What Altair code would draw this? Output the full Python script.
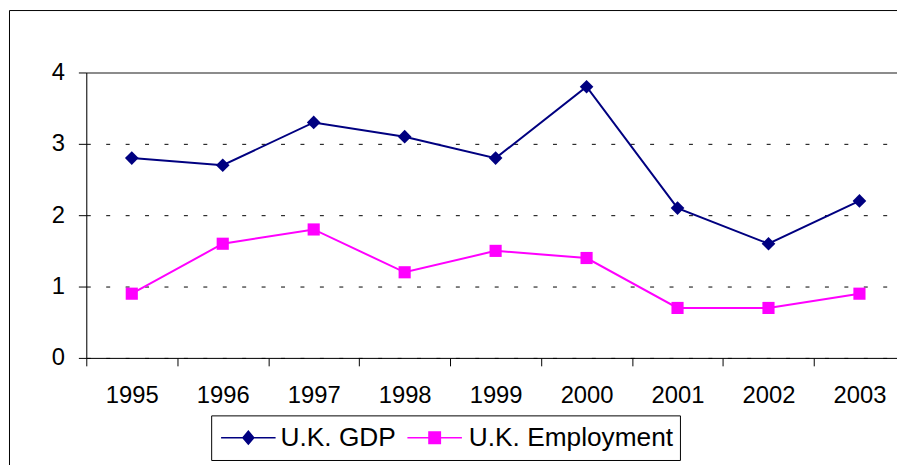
import altair as alt
import pandas as pd

years = ["1995", "1996", "1997", "1998", "1999", "2000", "2001", "2002", "2003"]
gdp = [2.8, 2.7, 3.3, 3.1, 2.8, 3.8, 2.1, 1.6, 2.2]
employment = [0.9, 1.6, 1.8, 1.2, 1.5, 1.4, 0.7, 0.7, 0.9]
series_names = ["U.K. GDP", "U.K. Employment"]
series_colors = ["#000080", "#FF00FF"]
y_ticks = [0, 1, 2, 3, 4]

rows = []
for name, vals in zip(series_names, [gdp, employment]):
    for yr, v in zip(years, vals):
        rows.append({"year": yr, "value": v, "series": name})
df = pd.DataFrame(rows)

FONT = "Liberation Sans"

x_enc = alt.X(
    "year:O",
    sort=years,
    bandPosition=0.5,
    scale=alt.Scale(type="band", range=[0, 826], paddingInner=0, paddingOuter=0),
    axis=alt.Axis(
        title=None, labelAngle=0, tickBand="extent", tickSize=8, labelPadding=18,
        labelFontSize=24, labelColor="black", domainColor="black", tickColor="black",
        labelFont=FONT,
    ),
)
y_enc = alt.Y(
    "value:Q",
    scale=alt.Scale(domain=[0, 4], nice=False, zero=True),
    axis=alt.Axis(
        title=None, values=y_ticks, tickSize=8, labelPadding=14, labelFontSize=24,
        labelColor="black", domainColor="black", tickColor="black", labelFont=FONT,
        grid=True,
        gridColor={"condition": {"test": "datum.value === 4", "value": "#8c8c8c"}, "value": "black"},
        gridDash={"condition": {"test": "datum.value === 4", "value": []}, "value": [4, 15.6]},
        gridWidth={"condition": {"test": "datum.value === 4", "value": 2}, "value": 1},
    ),
)
color_scale = alt.Scale(domain=series_names, range=series_colors)

base = alt.Chart(df)
one_row = alt.Data(values=[{"k": 1}])

border = alt.Chart(one_row).mark_rect(
    fill="transparent", stroke="black", strokeWidth=1
).encode(
    x=alt.value(-77.5), x2=alt.value(900), y=alt.value(-62.5), y2=alt.value(500)
)

legend_box = alt.Chart(one_row).mark_rect(
    fill="white", stroke="black", strokeWidth=1
).encode(
    x=alt.value(126.5), x2=alt.value(599.5), y=alt.value(346.5), y2=alt.value(391.5)
)

lines = base.mark_line(strokeWidth=2).encode(
    x=x_enc, y=y_enc,
    color=alt.Color("series:N", scale=color_scale, legend=None),
    detail="series:N",
)

gdp_points = base.transform_filter(alt.datum.series == series_names[0]).mark_point(
    filled=True, opacity=1, size=190, shape="diamond"
).encode(
    x=x_enc, y=y_enc,
    color=alt.Color("series:N", scale=color_scale, legend=None),
)
emp_points = base.transform_filter(alt.datum.series == series_names[1]).mark_point(
    filled=True, opacity=1, size=150, shape="square"
).encode(
    x=x_enc, y=y_enc,
    color=alt.Color("series:N", scale=color_scale, legend=None),
)

gdp_path = "M-1,0L3.4,0M0.76,0L1.2,-0.52L1.64,0L1.2,0.52Z"
emp_path = "M-1,0L3.4,0M0.74,-0.46L1.66,-0.46L1.66,0.46L0.74,0.46Z"


def legend_entry(name, path, color, lx, offset):
    return base.transform_filter("false").mark_point(
        filled=True, color=color, fill=color, stroke=color, strokeWidth=1.5, opacity=1
    ).encode(
        x=x_enc, y=y_enc,
        shape=alt.Shape(
            "series:N",
            scale=alt.Scale(domain=[name], range=[path]),
            title=None,
            legend=alt.Legend(
                orient="none", legendX=lx, legendY=355, direction="horizontal",
                padding=0, symbolSize=625, symbolStrokeWidth=1.5, symbolOpacity=1,
                labelOffset=offset, labelFontSize=26.5, labelFont=FONT, labelColor="black",
                labelLimit=400,
            ),
        ),
    )


leg_gdp = legend_entry(series_names[0], gdp_path, series_colors[0], 135, 34)
leg_emp = legend_entry(series_names[1], emp_path, series_colors[1], 323, 36)

chart = alt.layer(border, legend_box, lines, gdp_points, emp_points, leg_gdp, leg_emp).resolve_scale(
    shape="independent"
).properties(
    width=818, height=288,
    padding={"left": 79, "top": 63, "right": 0, "bottom": 106},
    autosize=alt.AutoSizeParams(type="none"),
).configure_view(stroke=None).configure(font=FONT)

chart.save("out.html", embed_options={"renderer": "svg", "actions": False})
